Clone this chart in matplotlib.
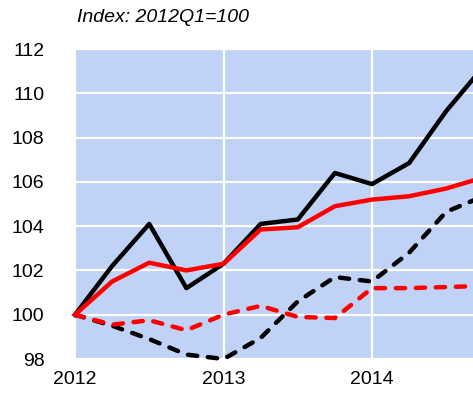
import matplotlib

matplotlib.use("Agg")
import matplotlib.pyplot as plt  # noqa: E402

# quarters from 2012Q1 to 2014Q4, as decimal years
quarters = [2012.0, 2012.25, 2012.5, 2012.75,
            2013.0, 2013.25, 2013.5, 2013.75,
            2014.0, 2014.25, 2014.5, 2014.75]

black_solid = [100.0, 102.2, 104.1, 101.2, 102.3, 104.1, 104.3, 106.4, 105.9, 106.85, 109.2, 111.2]
red_solid = [100.0, 101.5, 102.35, 102.0, 102.3, 103.85, 103.95, 104.9, 105.2, 105.35, 105.7, 106.2]
black_dashed = [100.0, 99.5, 98.9, 98.2, 98.0, 98.95, 100.6, 101.7, 101.5, 102.8, 104.65, 105.35]
red_dashed = [100.0, 99.55, 99.75, 99.3, 100.0, 100.4, 99.9, 99.85, 101.2, 101.2, 101.25, 101.3]

year_ticks = [2012, 2013, 2014]
value_ticks = [98, 100, 102, 104, 106, 108, 110, 112]

plt.rcParams["font.family"] = ["Liberation Sans", "DejaVu Sans"]

fig = plt.figure(figsize=(4.73, 4.0), dpi=100)
ax = fig.add_axes([75 / 473, 41 / 400, 1 - 75 / 473, 310 / 400])
ax.set_facecolor("#c0d3f7")

lw = 3.2
dash_kw = dict(lw=lw, dashes=(2.1, 2.4), dash_capstyle="round", clip_on=False)
ax.plot(quarters, black_dashed, color="black", zorder=3, **dash_kw)
ax.plot(quarters, red_dashed, color="#ff0000", zorder=3, **dash_kw)
ax.plot(quarters, black_solid, color="black", lw=lw, zorder=4, clip_on=False)
ax.plot(quarters, red_solid, color="#ff0000", lw=lw, zorder=5, clip_on=False)

ax.set_xlim(2012, 2014.68)
ax.set_ylim(98, 112)
ax.set_xticks(year_ticks)
ax.set_xticklabels([str(y) for y in year_ticks])
ax.set_yticks(value_ticks)
ax.grid(True, color="white", lw=1.6)
ax.set_axisbelow(True)
for s in ax.spines.values():
    s.set_visible(False)
ax.tick_params(axis="both", length=0, labelsize=14)
ax.tick_params(axis="y", pad=22)
ax.tick_params(axis="x", pad=9)

fig.text(77 / 473, 1 - 17 / 400, "Index: 2012Q1=100", fontsize=14, style="italic",
         va="center", ha="left")

plt.savefig("out.png", dpi=100)
plt.close(fig)
